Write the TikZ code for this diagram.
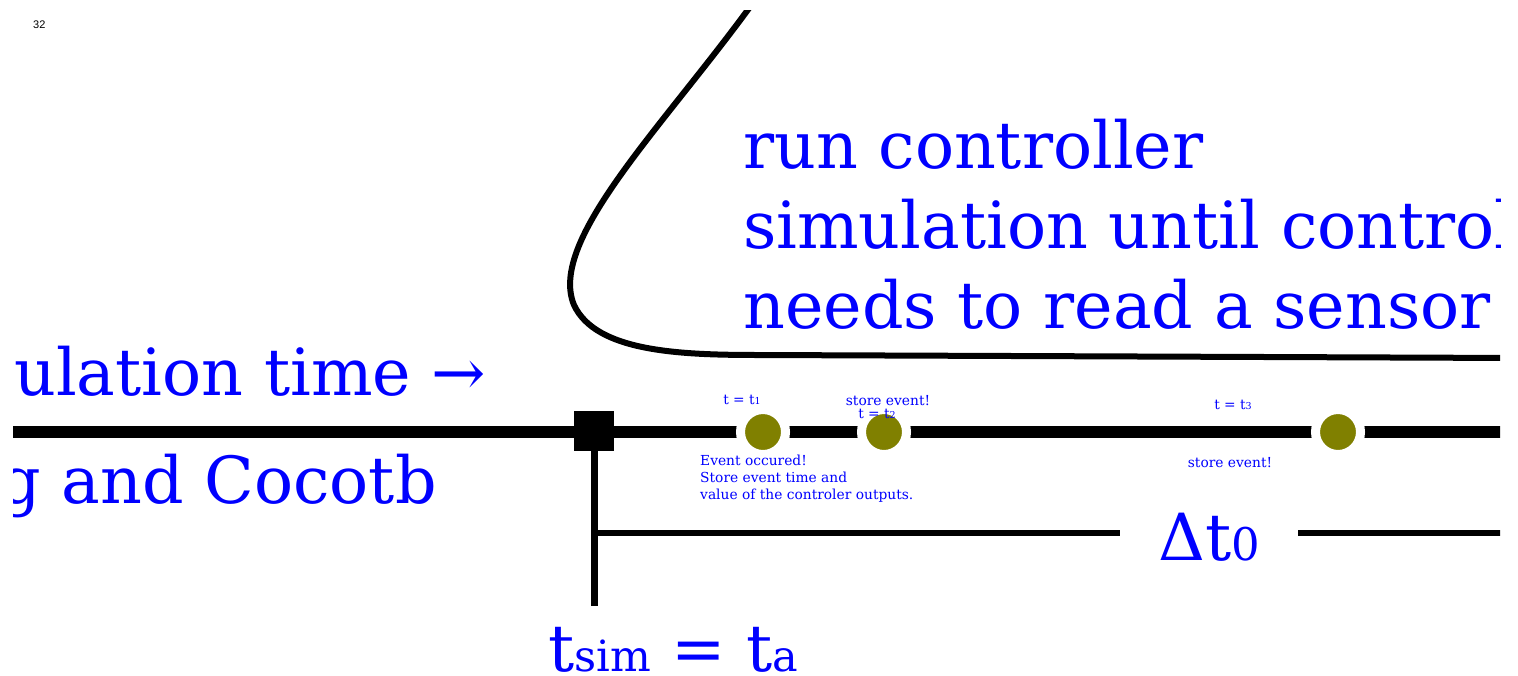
\documentclass[tikz,border=0pt]{standalone}
\usepackage{fontspec}
\setmainfont{DejaVu Serif}
\newfontfamily\pagefont{Liberation Sans}
\usetikzlibrary{positioning}
\definecolor{evtfill}{RGB}{128,128,0}

\newcommand{\bigsub}[1]{{\fontsize{43}{43}\selectfont #1}}
\newcommand{\smallsub}[1]{{\fontsize{9.5}{9.5}\selectfont #1}}

\begin{document}
\begin{tikzpicture}[
  x=1pt, y=-1pt,
  bigtxt/.style={text=blue, inner sep=0pt, font=\fontsize{65}{80}\selectfont},
  smalltxt/.style={text=blue, inner sep=0pt, font=\fontsize{13.8}{17}\selectfont},
  evt/.style={circle, fill=evtfill, draw=white, line width=9pt, minimum size=45pt, inner sep=0pt},
  timeline/.style={line width=12pt, black},
  bar/.style={line width=6pt, black}
]
  \useasboundingbox (0,0) rectangle (1518,675);

  % page number
  \node[font=\pagefont\fontsize{11}{11}\selectfont, anchor=base west, inner sep=0pt] (pgno) at (33,28) {32};

  \begin{scope}
  \clip (13,10) rectangle (1500,675);

  % Top — controller run
  \draw[bar] (755,0) .. controls (665,125) and (547,240) .. (574,305)
             .. controls (596,352) and (680,355) .. (760,355) -- (1518,358);
  \node[bigtxt, anchor=base west] (run1) at (743,168) {run controller};
  \node[bigtxt, anchor=base west] (run2) at (743,248) {simulation until controller};
  \node[bigtxt, anchor=base west] (run3) at (743,328) {needs to read a sensor};

  % Left — labels of the time line
  \node[bigtxt, anchor=base west] (simtime) at (14,395) {ulation time →};
  \node[bigtxt, anchor=base east] (cocotb) at (437,503) {g and Cocotb};

  % Time line
  \coordinate (tl start) at (0,432);
  \coordinate (tl end) at (1518,432);
  \draw[timeline] (tl start) -- (tl end);
  \node[fill=black, minimum size=40pt, inner sep=0pt] (tsim) at (594,431) {};
  \node[evt] (ev1) at (763,432) {};
  \node[evt] (ev2) at (884,432) {};
  \node[evt] (ev3) at (1338,432) {};

  % Event labels
  \node[smalltxt, anchor=base] (t1) at (742,404) {t = t\smallsub{1}};
  \node[smalltxt, anchor=base] (store2) at (888,405) {store event!};
  \node[smalltxt, anchor=base] (t2) at (877,418) {t = t\smallsub{2}};
  \node[smalltxt, anchor=base] (t3) at (1233,409) {t = t\smallsub{3}};
  \node[smalltxt, anchor=base] (store3) at (1230,467) {store event!};
  \node[smalltxt, anchor=base west] (occ1) at (700,465) {Event occured!};
  \node[smalltxt, anchor=base west] (occ2) at (700,482) {Store event time and};
  \node[smalltxt, anchor=base west] (occ3) at (700,499) {value of the controler outputs.};

  % Step length
  \coordinate (tsim foot) at (595,606);
  \draw[line width=7pt] (tsim.south) -- (tsim.south |- tsim foot);
  \node[bigtxt, anchor=base, inner xsep=38pt] (dt) at (1209,560) {Δt{\fontsize{45}{45}\selectfont 0}};
  \coordinate (dt start) at (595,533);
  \coordinate (dt end) at (1518,533);
  \draw[bar] (dt start) -- (dt.west |- dt start);
  \draw[bar] (dt.east |- dt end) -- (dt end);
  \node[bigtxt, anchor=base west] (tsimeq) at (548,671) {t\bigsub{sim} = t\bigsub{a}};
  \end{scope}
\end{tikzpicture}
\end{document}
